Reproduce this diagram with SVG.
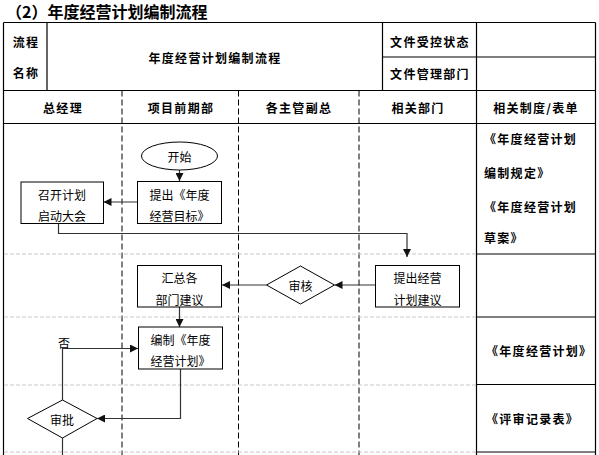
<svg xmlns="http://www.w3.org/2000/svg" width="599" height="455" viewBox="0 0 599 455">
<style>
text{font-family:"Noto Sans CJK SC","Noto Sans",sans-serif;fill:#000;}
.t{font-size:16px;font-weight:bold;}
.h{font-size:12px;font-weight:bold;letter-spacing:1.3px;text-anchor:middle;dominant-baseline:central;}
.r{font-size:12px;font-weight:bold;letter-spacing:1.3px;dominant-baseline:central;}
.n{font-size:12px;text-anchor:middle;dominant-baseline:central;}
.tb{stroke:#000;stroke-width:1.2;fill:none;}
.ln{stroke:#000;stroke-width:1;stroke-dasharray:6 3;fill:none;}
.rw{stroke:#c8c8c8;stroke-width:1;stroke-dasharray:4 2;fill:none;}
.box{fill:#fff;stroke:#000;stroke-width:1;}
.c{stroke:#333;stroke-width:1.2;fill:none;}
</style>
<defs>
<marker id="ah" markerWidth="8" markerHeight="8" refX="8" refY="4" orient="auto" markerUnits="userSpaceOnUse">
<path d="M0,0 L8,4 L0,8 Z" fill="#111"/>
</marker>
</defs>
<rect width="599" height="455" fill="#fff"/>
<text class="t" x="6" y="18">（2）年度经营计划编制流程</text>
<g id="table">
<path class="tb" d="M3.5,22.5 H595.5 M3.5,22.5 V455 M595.5,22.5 V455 M3.5,90.5 H595.5 M3.5,123.5 H595.5 M382.5,57 H595.5 M47,22.5 V90.5 M382.5,22.5 V90.5 M476.5,22.5 V455 M476.5,254 H595.5 M476.5,317 H595.5 M476.5,384.5 H595.5 M476.5,452 H595.5"/>
<path class="ln" d="M122,90.5 V455 M238.5,90.5 V455 M359,90.5 V455"/>
<path class="rw" d="M4,254 H476 M4,317 H476 M4,385 H476 M4,452 H476"/>
<text class="h" x="26" y="41">流程</text>
<text class="h" x="26" y="72">名称</text>
<text class="h" x="215" y="57">年度经营计划编制流程</text>
<text class="h" x="430" y="41">文件受控状态</text>
<text class="h" x="430" y="73">文件管理部门</text>
<text class="h" x="63" y="107">总经理</text>
<text class="h" x="181" y="107">项目前期部</text>
<text class="h" x="299" y="107">各主管副总</text>
<text class="h" x="418" y="107">相关部门</text>
<text class="h" x="536" y="107">相关制度/表单</text>
<text class="r" x="484" y="138">《年度经营计划</text>
<text class="r" x="484" y="172">编制规定》</text>
<text class="r" x="484" y="206">《年度经营计划</text>
<text class="r" x="484" y="237">草案》</text>
<text class="r" x="486" y="350">《年度经营计划》</text>
<text class="r" x="486" y="418">《评审记录表》</text>
</g>
<g id="connectors">
<path class="c" d="M179.5,170 V181" marker-end="url(#ah)"/>
<path class="c" d="M137,202 H103.5" marker-end="url(#ah)"/>
<path class="c" d="M58.5,223.5 V233.5 H407 V257" marker-end="url(#ah)"/>
<path class="c" d="M375,285 H334.5" marker-end="url(#ah)"/>
<path class="c" d="M266.5,285 H222" marker-end="url(#ah)"/>
<path class="c" d="M179.5,307 V327" marker-end="url(#ah)"/>
<path class="c" d="M180.5,369 V418.5 H97" marker-end="url(#ah)"/>
<path class="c" d="M62.5,400 V348.5 H138" marker-end="url(#ah)"/>
<path class="c" d="M62.5,438 V455"/>
</g>
<g id="start"><ellipse class="box" cx="179.5" cy="156" rx="38" ry="14"/><text class="n" x="179.5" y="156">开始</text></g>
<g id="propose"><rect class="box" x="137.5" y="181.5" width="84" height="42"/><text class="n" x="179.5" y="194">提出《年度</text><text class="n" x="179.5" y="215">经营目标》</text></g>
<g id="kickoff"><rect class="box" x="21" y="182" width="82.5" height="41.5"/><text class="n" x="62" y="194">召开计划</text><text class="n" x="62" y="215.5">启动大会</text></g>
<g id="dept"><rect class="box" x="375.5" y="265.5" width="84" height="41.5"/><text class="n" x="417.5" y="277">提出经营</text><text class="n" x="417.5" y="299">计划建议</text></g>
<g id="review"><path class="box" d="M266.5,285 L300.5,266 L334.5,285 L300.5,304 Z"/><text class="n" x="300.5" y="285">审核</text></g>
<g id="summary"><rect class="box" x="137.5" y="265.5" width="84" height="41.5"/><text class="n" x="179.5" y="277">汇总各</text><text class="n" x="179.5" y="299">部门建议</text></g>
<g id="draft"><rect class="box" x="138.5" y="327" width="84" height="42"/><text class="n" x="180.5" y="339">编制《年度</text><text class="n" x="180.5" y="360">经营计划》</text></g>
<g id="approve"><path class="box" d="M27.5,418.5 L62.5,400 L97,418.5 L62.5,438 Z"/><text class="n" x="62" y="419">审批</text></g>
<text class="n" x="64" y="342">否</text>
</svg>
